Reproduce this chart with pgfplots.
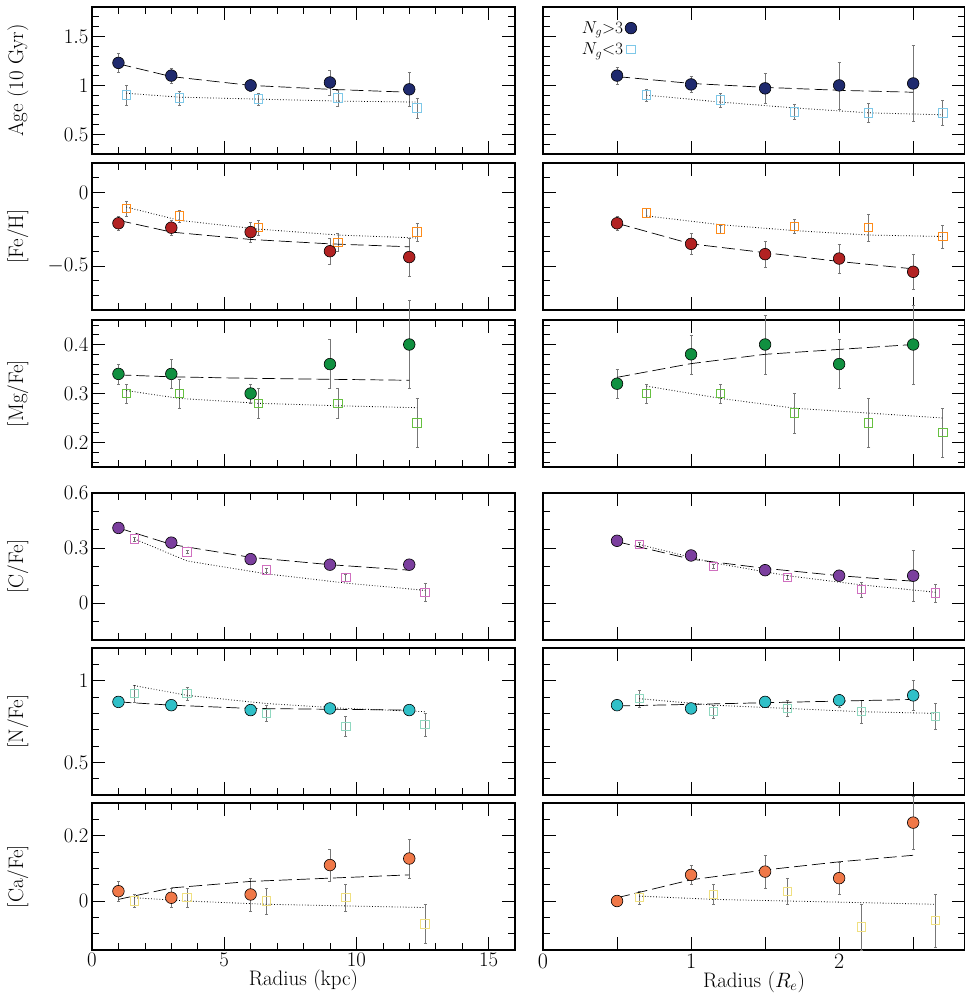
\documentclass[border=0pt]{standalone}
\usepackage{pgfplots}
\pgfplotsset{compat=1.18}
\definecolor{cA}{HTML}{1F2A6E}\definecolor{oA}{HTML}{7EC8E8}
\definecolor{cB}{HTML}{B22222}\definecolor{oB}{HTML}{FF8C1A}
\definecolor{cC}{HTML}{109040}\definecolor{oC}{HTML}{66C040}
\definecolor{cD}{HTML}{7B3F9E}\definecolor{oD}{HTML}{D070C0}
\definecolor{cE}{HTML}{30C0C8}\definecolor{oE}{HTML}{90D8C0}
\definecolor{cF}{HTML}{F07848}\definecolor{oF}{HTML}{F0E080}
\definecolor{eb}{HTML}{777777}
\pgfplotsset{
 base/.style={scale only axis, height=147pt, tick align=inside, tick pos=both,
   major tick length=13pt, minor tick length=7pt, axis line style={line width=1.2pt},
   every tick/.style={black,line width=0.6pt},
   tick label style={font=\fontsize{22}{22}\selectfont},
   ylabel style={font=\fontsize{21}{21}\selectfont, at={(axis description cs:-0.175,0.5)}, anchor=center},
   xlabel style={font=\fontsize{21}{21}\selectfont, yshift=4pt}, clip=false},
 L/.style={base, width=423pt, xmin=0, xmax=16, xtick={0,5,10,15}, minor xtick={1,2,3,4,6,7,8,9,11,12,13,14,16}},
 R/.style={base, width=422pt, xmin=0, xmax=2.85, xtick={0,0.5,1,1.5,2,2.5}, yticklabels={}},
 nox/.style={xticklabels={}},
 ebars/.style={forget plot, color=eb, draw=none, no marks,
   error bars/.cd, y dir=both, y explicit, error bar style={draw=eb,line width=0.7pt},
   error mark options={rotate=90,mark size=1.5pt}},
 filled/.style={only marks, color=#1, mark=*, mark size=5.8pt, mark options={fill=#1, draw=black, line width=0.6pt}},
 open/.style={only marks, color=#1, draw=#1, mark=square, mark size=4.2pt, mark options={line width=1pt}},
 dfit/.style={black, line width=0.7pt, dash pattern=on 13pt off 5pt},
 ofit/.style={black, line width=0.8pt, dotted},
}
\newcommand\pts[3]{%
 \addplot[ebars] table[row sep=\\,y error=e]{#3};
 \addplot[#1=#2] table[row sep=\\,x=x,y=y]{#3};}
\begin{document}
\begin{tikzpicture}
\useasboundingbox (0,0) rectangle (964pt,-1006pt);
% ---------- Age
\begin{axis}[L,nox,at={(92pt,-7pt)},anchor=north west, ymin=0.3,ymax=1.8, ytick={0.5,1,1.5},
  minor ytick={0.3,0.4,...,1.8}, ylabel={Age (10 Gyr)}]
\pts{open}{oA}{x y e\\1.3 0.90 0.10\\3.3 0.87 0.07\\6.3 0.86 0.06\\9.3 0.87 0.08\\12.3 0.77 0.10\\}
\pts{filled}{cA}{x y e\\1 1.23 0.10\\3 1.10 0.08\\6 1.00 0.06\\9 1.03 0.13\\12 0.96 0.17\\}
\addplot[dfit] coordinates {(1,1.22)(3,1.09)(6,1.0)(9,0.96)(12,0.93)};
\addplot[ofit] coordinates {(1.3,0.92)(3.3,0.88)(6.3,0.86)(9.3,0.84)(12.3,0.83)};
\end{axis}
\begin{axis}[R,nox,at={(543pt,-7pt)},anchor=north west, ymin=0.3,ymax=1.8, ytick={0.5,1,1.5},
  minor ytick={0.3,0.4,...,1.8}, legend plot pos=right,
  legend style={draw=none, fill=none, at={(axis description cs:0.08,0.93)}, anchor=north west, font=\fontsize{17}{17}\selectfont, row sep=4pt}]
\pts{filled}{cA}{x y e\\0.5 1.10 0.09\\1 1.01 0.08\\1.5 0.97 0.15\\2 1.00 0.24\\2.5 1.02 0.39\\}
\addlegendentry{$N_g{>}3$}
\pts{open}{oA}{x y e\\0.7 0.90 0.06\\1.2 0.85 0.07\\1.7 0.73 0.08\\2.2 0.72 0.10\\2.7 0.72 0.13\\}
\addlegendentry{$N_g{<}3$}
\addplot[dfit,forget plot] coordinates {(0.5,1.09)(1,1.02)(1.5,0.98)(2,0.95)(2.5,0.93)};
\addplot[ofit,forget plot] coordinates {(0.7,0.90)(1.2,0.83)(1.7,0.77)(2.2,0.72)(2.7,0.70)};
\end{axis}
% ---------- Fe/H
\begin{axis}[L,nox,at={(92pt,-163pt)},anchor=north west, ymin=-0.8,ymax=0.2, ytick={-0.5,0},
  minor ytick={-0.8,-0.7,...,0.2}, ylabel={[Fe/H]}]
\pts{open}{oB}{x y e\\1.3 -0.11 0.05\\3.3 -0.16 0.04\\6.3 -0.24 0.05\\9.3 -0.34 0.06\\12.3 -0.27 0.06\\}
\pts{filled}{cB}{x y e\\1 -0.21 0.05\\3 -0.24 0.05\\6 -0.27 0.07\\9 -0.40 0.09\\12 -0.44 0.13\\}
\addplot[dfit] coordinates {(1,-0.19)(3,-0.27)(6,-0.32)(9,-0.35)(12,-0.37)};
\addplot[ofit] coordinates {(1.3,-0.10)(3.3,-0.19)(6.3,-0.25)(9.3,-0.29)(12.3,-0.31)};
\end{axis}
\begin{axis}[R,nox,at={(543pt,-163pt)},anchor=north west, ymin=-0.8,ymax=0.2, ytick={-0.5,0},
  minor ytick={-0.8,-0.7,...,0.2}]
\pts{open}{oB}{x y e\\0.7 -0.14 0.03\\1.2 -0.25 0.03\\1.7 -0.23 0.05\\2.2 -0.24 0.09\\2.7 -0.30 0.08\\}
\pts{filled}{cB}{x y e\\0.5 -0.21 0.05\\1 -0.35 0.07\\1.5 -0.42 0.09\\2 -0.45 0.10\\2.5 -0.54 0.12\\}
\addplot[dfit] coordinates {(0.5,-0.21)(1,-0.35)(1.5,-0.41)(2,-0.47)(2.5,-0.52)};
\addplot[ofit] coordinates {(0.7,-0.16)(1.2,-0.22)(1.7,-0.26)(2.2,-0.29)(2.7,-0.30)};
\end{axis}
% ---------- Mg/Fe
\begin{axis}[L,nox,at={(92pt,-320pt)},anchor=north west, ymin=0.15,ymax=0.45, ytick={0.2,0.3,0.4},
  minor ytick={0.16,0.18,...,0.44}, ylabel={[Mg/Fe]}]
\pts{open}{oC}{x y e\\1.3 0.30 0.02\\3.3 0.30 0.03\\6.3 0.28 0.03\\9.3 0.28 0.03\\12.3 0.24 0.05\\}
\pts{filled}{cC}{x y e\\1 0.34 0.02\\3 0.34 0.03\\6 0.30 0.02\\9 0.36 0.05\\12 0.40 0.09\\}
\addplot[dfit] coordinates {(1,0.338)(3,0.334)(6,0.331)(9,0.329)(12,0.327)};
\addplot[ofit] coordinates {(1.3,0.306)(3.3,0.29)(6.3,0.28)(9.3,0.275)(12.3,0.271)};
\end{axis}
\begin{axis}[R,nox,at={(543pt,-320pt)},anchor=north west, ymin=0.15,ymax=0.45, ytick={0.2,0.3,0.4},
  minor ytick={0.16,0.18,...,0.44}]
\pts{open}{oC}{x y e\\0.7 0.30 0.02\\1.2 0.30 0.02\\1.7 0.26 0.04\\2.2 0.24 0.05\\2.7 0.22 0.05\\}
\pts{filled}{cC}{x y e\\0.5 0.32 0.03\\1 0.38 0.04\\1.5 0.40 0.06\\2 0.36 0.05\\2.5 0.40 0.08\\}
\addplot[dfit] coordinates {(0.5,0.333)(1,0.361)(1.5,0.38)(2,0.39)(2.5,0.40)};
\addplot[ofit] coordinates {(0.7,0.315)(1.2,0.29)(1.7,0.27)(2.2,0.26)(2.7,0.25)};
\end{axis}
% ---------- C/Fe
\begin{axis}[L,nox,at={(92pt,-493pt)},anchor=north west, ymin=-0.2,ymax=0.6, ytick={0,0.3,0.6},
  minor ytick={-0.2,-0.1,...,0.6}, ylabel={[C/Fe]}]
\pts{open}{oD}{x y e\\1.6 0.35 0.01\\3.6 0.28 0.01\\6.6 0.18 0.01\\9.6 0.14 0.02\\12.6 0.06 0.05\\}
\pts{filled}{cD}{x y e\\1 0.41 0.01\\3 0.33 0.01\\6 0.24 0.01\\9 0.21 0.01\\12 0.21 0.01\\}
\addplot[dfit] coordinates {(1,0.41)(3,0.32)(6,0.25)(9,0.21)(12,0.18)};
\addplot[ofit] coordinates {(1.6,0.35)(3.6,0.23)(6.6,0.16)(9.6,0.11)(12.6,0.07)};
\end{axis}
\begin{axis}[R,nox,at={(543pt,-493pt)},anchor=north west, ymin=-0.2,ymax=0.6, ytick={0,0.3,0.6},
  minor ytick={-0.2,-0.1,...,0.6}]
\pts{open}{oD}{x y e\\0.65 0.32 0.01\\1.15 0.20 0.01\\1.65 0.14 0.01\\2.15 0.075 0.04\\2.65 0.055 0.05\\}
\pts{filled}{cD}{x y e\\0.5 0.34 0.01\\1 0.26 0.01\\1.5 0.18 0.01\\2 0.15 0.02\\2.5 0.15 0.14\\}
\addplot[dfit] coordinates {(0.5,0.335)(1,0.24)(1.5,0.19)(2,0.15)(2.5,0.12)};
\addplot[ofit] coordinates {(0.65,0.32)(1.15,0.22)(1.65,0.15)(2.15,0.10)(2.65,0.06)};
\end{axis}
% ---------- N/Fe
\begin{axis}[L,nox,at={(92pt,-648pt)},anchor=north west, ymin=0.3,ymax=1.2, ytick={0.5,1},
  minor ytick={0.3,0.4,...,1.2}, ylabel={[N/Fe]}]
\pts{open}{oE}{x y e\\1.6 0.92 0.05\\3.6 0.92 0.04\\6.6 0.80 0.05\\9.6 0.72 0.06\\12.6 0.73 0.07\\}
\pts{filled}{cE}{x y e\\1 0.87 0.01\\3 0.85 0.01\\6 0.82 0.01\\9 0.83 0.03\\12 0.82 0.03\\}
\addplot[dfit] coordinates {(1,0.87)(3,0.85)(6,0.83)(9,0.825)(12,0.82)};
\addplot[ofit] coordinates {(1.6,0.97)(3.6,0.91)(6.6,0.86)(9.6,0.83)(12.6,0.81)};
\end{axis}
\begin{axis}[R,nox,at={(543pt,-648pt)},anchor=north west, ymin=0.3,ymax=1.2, ytick={0.5,1},
  minor ytick={0.3,0.4,...,1.2}]
\pts{open}{oE}{x y e\\0.65 0.89 0.05\\1.15 0.81 0.04\\1.65 0.83 0.05\\2.15 0.81 0.07\\2.65 0.78 0.08\\}
\pts{filled}{cE}{x y e\\0.5 0.85 0.01\\1 0.83 0.01\\1.5 0.87 0.03\\2 0.88 0.04\\2.5 0.91 0.09\\}
\addplot[dfit] coordinates {(0.5,0.845)(1,0.855)(1.5,0.865)(2,0.875)(2.5,0.885)};
\addplot[ofit] coordinates {(0.65,0.89)(1.15,0.85)(1.65,0.83)(2.15,0.81)(2.65,0.80)};
\end{axis}
% ---------- Ca/Fe
\begin{axis}[L,at={(92pt,-803pt)},anchor=north west, ymin=-0.15,ymax=0.3, ytick={0,0.2},
  minor ytick={-0.15,-0.1,...,0.3}, ylabel={[Ca/Fe]}, xlabel={Radius (kpc)}]
\pts{open}{oF}{x y e\\1.6 0.0 0.02\\3.6 0.01 0.03\\6.6 0.0 0.04\\9.6 0.01 0.04\\12.6 -0.07 0.06\\}
\pts{filled}{cF}{x y e\\1 0.03 0.03\\3 0.01 0.03\\6 0.02 0.05\\9 0.11 0.05\\12 0.13 0.06\\}
\addplot[dfit] coordinates {(1,0.005)(3,0.04)(6,0.06)(9,0.07)(12,0.08)};
\addplot[ofit] coordinates {(1.6,0.01)(3.6,0.0)(6.6,-0.01)(9.6,-0.015)(12.6,-0.02)};
\end{axis}
\begin{axis}[R,at={(543pt,-803pt)},anchor=north west, ymin=-0.15,ymax=0.3, ytick={0,0.2},
  minor ytick={-0.15,-0.1,...,0.3}, xticklabels={0,,1,,2,}, xlabel={Radius ($R_e$)}]
\pts{open}{oF}{x y e\\0.65 0.01 0.02\\1.15 0.02 0.03\\1.65 0.03 0.04\\2.15 -0.08 0.07\\2.65 -0.06 0.08\\}
\pts{filled}{cF}{x y e\\0.5 0.0 0.01\\1 0.08 0.03\\1.5 0.09 0.05\\2 0.07 0.05\\2.5 0.24 0.08\\}
\addplot[dfit] coordinates {(0.5,0.01)(1,0.065)(1.5,0.095)(2,0.12)(2.5,0.14)};
\addplot[ofit] coordinates {(0.65,0.015)(1.15,0.005)(1.65,0.0)(2.15,-0.005)(2.65,-0.01)};
\end{axis}
\end{tikzpicture}
\end{document}
